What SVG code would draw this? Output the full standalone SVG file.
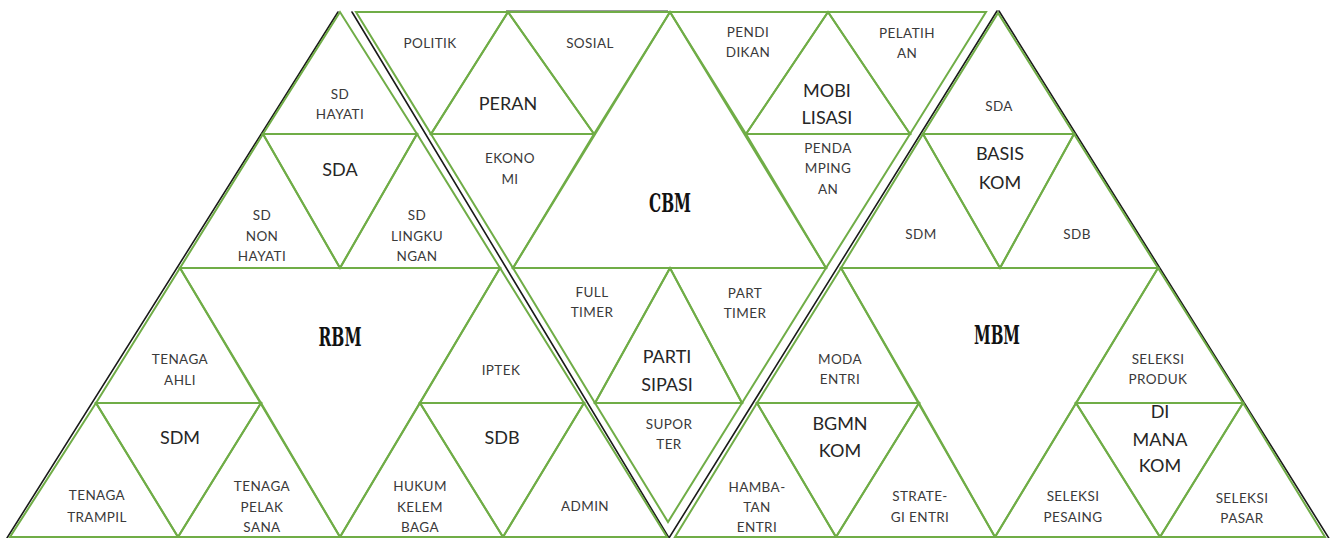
<svg xmlns="http://www.w3.org/2000/svg" width="1330" height="538" viewBox="0 0 1330 538">
<style>
.t{fill:none;stroke:#70AD47;stroke-width:2;stroke-linejoin:miter}
.o{fill:none;stroke:#1a1a1a;stroke-width:1.6;stroke-linecap:round}
text{font-family:Lato,"Open Sans","Liberation Sans",sans-serif;fill:#3a3a3a;text-anchor:middle}
.s{font-size:13.5px;letter-spacing:0.4px}
.l{font-size:18px;fill:#262626}
.b{font-family:"DejaVu Serif","Liberation Serif",serif;font-weight:bold;font-size:26px;fill:#111}
</style>
<rect width="1330" height="538" fill="#fff"/>
<g id="outlines">
<line class="o" x1="338" y1="12" x2="7" y2="538"/>
<line class="o" x1="352" y1="12" x2="669" y2="538"/>
<line class="o" x1="997" y1="11" x2="669" y2="538"/>
<line class="o" x1="999" y1="11" x2="1330" y2="540"/>
<line x1="506" y1="11" x2="668" y2="11" stroke="#777" stroke-width="1.4"/>
</g>
<g id="rbm-region">
<g id="sd-hayati"><polygon class="t" points="340,12 263,134 417,134"/><text class="s" x="340" y="99">SD</text><text class="s" x="340" y="119">HAYATI</text></g>
<g id="sda-rbm"><polygon class="t" points="263,134 417,134 340,268"/><text class="l" x="340" y="176">SDA</text></g>
<g id="sd-non-hayati"><polygon class="t" points="263,134 180,268 340,268"/><text class="s" x="262" y="220">SD</text><text class="s" x="262" y="241">NON</text><text class="s" x="262" y="261">HAYATI</text></g>
<g id="sd-lingkungan"><polygon class="t" points="417,134 340,268 500,268"/><text class="s" x="417" y="220">SD</text><text class="s" x="417" y="241">LINGKU</text><text class="s" x="417" y="261">NGAN</text></g>
<g id="rbm"><polygon class="t" points="180,268 500,268 340,537"/><text class="b" x="340" y="346" textLength="43" lengthAdjust="spacingAndGlyphs">RBM</text></g>
<g id="tenaga-ahli"><polygon class="t" points="180,268 96,403 261,403"/><text class="s" x="180" y="364">TENAGA</text><text class="s" x="180" y="385">AHLI</text></g>
<g id="sdm-rbm"><polygon class="t" points="96,403 261,403 178,537"/><text class="l" x="180" y="444">SDM</text></g>
<g id="tenaga-trampil"><polygon class="t" points="96,403 10,537 178,537"/><text class="s" x="97" y="500">TENAGA</text><text class="s" x="97" y="522">TRAMPIL</text></g>
<g id="tenaga-pelaksana"><polygon class="t" points="261,403 178,537 340,537"/><text class="s" x="262" y="491">TENAGA</text><text class="s" x="262" y="512">PELAK</text><text class="s" x="262" y="532">SANA</text></g>
<g id="iptek"><polygon class="t" points="500,268 420,403 584,403"/><text class="s" x="501" y="375">IPTEK</text></g>
<g id="sdb-rbm"><polygon class="t" points="420,403 584,403 503,537"/><text class="l" x="502" y="444">SDB</text></g>
<g id="hukum-kelembagaan"><polygon class="t" points="420,403 340,537 503,537"/><text class="s" x="420" y="491">HUKUM</text><text class="s" x="420" y="512">KELEM</text><text class="s" x="420" y="532">BAGA</text></g>
<g id="admin"><polygon class="t" points="584,403 503,537 667,537"/><text class="s" x="585" y="511">ADMIN</text></g>
</g>
<g id="cbm-region">
<g id="politik"><polygon class="t" points="356,12 508,12 431,134"/><text class="s" x="430" y="48">POLITIK</text></g>
<g id="peran"><polygon class="t" points="508,12 431,134 594,134"/><text class="l" x="508" y="110">PERAN</text></g>
<g id="sosial"><polygon class="t" points="508,12 670,12 594,134"/><text class="s" x="590" y="48">SOSIAL</text></g>
<g id="ekonomi"><polygon class="t" points="431,134 594,134 513,268"/><text class="s" x="510" y="163">EKONO</text><text class="s" x="510" y="184">MI</text></g>
<g id="cbm"><polygon class="t" points="670,12 513,268 826,268"/><text class="b" x="670" y="212" textLength="42" lengthAdjust="spacingAndGlyphs">CBM</text></g>
<g id="pendidikan"><polygon class="t" points="670,12 828,12 746,134"/><text class="s" x="748" y="37">PENDI</text><text class="s" x="748" y="57">DIKAN</text></g>
<g id="mobilisasi"><polygon class="t" points="828,12 746,134 910,134"/><text class="l" x="827" y="97">MOBI</text><text class="l" x="827" y="124">LISASI</text></g>
<g id="pelatihan"><polygon class="t" points="828,12 986,12 910,134"/><text class="s" x="907" y="38">PELATIH</text><text class="s" x="907" y="58">AN</text></g>
<g id="pendampingan"><polygon class="t" points="746,134 910,134 826,268"/><text class="s" x="828" y="153">PENDA</text><text class="s" x="828" y="173">MPING</text><text class="s" x="828" y="194">AN</text></g>
<g id="full-timer"><polygon class="t" points="513,268 670,268 595,403"/><text class="s" x="592" y="297">FULL</text><text class="s" x="592" y="317">TIMER</text></g>
<g id="partisipasi"><polygon class="t" points="670,268 595,403 742,403"/><text class="l" x="667" y="363">PARTI</text><text class="l" x="667" y="391">SIPASI</text></g>
<g id="part-timer"><polygon class="t" points="670,268 826,268 742,403"/><text class="s" x="745" y="298">PART</text><text class="s" x="745" y="318">TIMER</text></g>
<g id="suporter"><polygon class="t" points="595,403 742,403 668,522"/><text class="s" x="669" y="429">SUPOR</text><text class="s" x="669" y="449">TER</text></g>
</g>
<g id="mbm-region">
<g id="sda-mbm"><polygon class="t" points="998,13 923,134 1074,134"/><text class="s" x="999" y="111">SDA</text></g>
<g id="basis-kom"><polygon class="t" points="923,134 1074,134 1000,268"/><text class="l" x="1000" y="160">BASIS</text><text class="l" x="1000" y="189">KOM</text></g>
<g id="sdm-mbm"><polygon class="t" points="923,134 841,268 1000,268"/><text class="s" x="921" y="239">SDM</text></g>
<g id="sdb-mbm"><polygon class="t" points="1074,134 1000,268 1158,268"/><text class="s" x="1077" y="239">SDB</text></g>
<g id="mbm"><polygon class="t" points="841,268 1158,268 995,537"/><text class="b" x="997" y="344" textLength="46" lengthAdjust="spacingAndGlyphs">MBM</text></g>
<g id="moda-entri"><polygon class="t" points="841,268 757,403 919,403"/><text class="s" x="840" y="364">MODA</text><text class="s" x="840" y="384">ENTRI</text></g>
<g id="bgmn-kom"><polygon class="t" points="757,403 919,403 836,537"/><text class="l" x="840" y="430">BGMN</text><text class="l" x="840" y="457">KOM</text></g>
<g id="hambatan-entri"><polygon class="t" points="757,403 675,537 836,537"/><text class="s" x="757" y="492">HAMBA-</text><text class="s" x="757" y="512">TAN</text><text class="s" x="757" y="532">ENTRI</text></g>
<g id="strategi-entri"><polygon class="t" points="919,403 836,537 995,537"/><text class="s" x="920" y="501">STRATE-</text><text class="s" x="920" y="522">GI ENTRI</text></g>
<g id="seleksi-produk"><polygon class="t" points="1158,268 1076,403 1243,403"/><text class="s" x="1158" y="364">SELEKSI</text><text class="s" x="1158" y="384">PRODUK</text></g>
<g id="di-mana-kom"><polygon class="t" points="1076,403 1243,403 1160,537"/><text class="l" x="1160" y="418">DI</text><text class="l" x="1160" y="446">MANA</text><text class="l" x="1160" y="472">KOM</text></g>
<g id="seleksi-pesaing"><polygon class="t" points="1076,403 995,537 1160,537"/><text class="s" x="1073" y="501">SELEKSI</text><text class="s" x="1073" y="522">PESAING</text></g>
<g id="seleksi-pasar"><polygon class="t" points="1243,403 1160,537 1325,537"/><text class="s" x="1242" y="503">SELEKSI</text><text class="s" x="1242" y="523">PASAR</text></g>
</g>
</svg>
